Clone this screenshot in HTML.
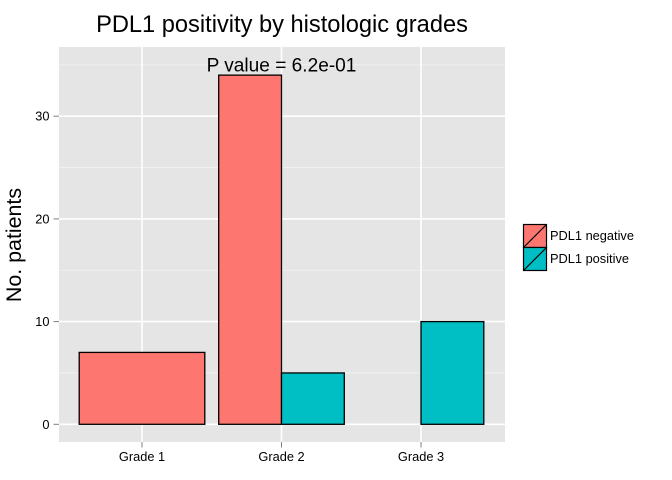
<!DOCTYPE html>
<html>
<head>
<meta charset="utf-8">
<style>
html,body{margin:0;padding:0;background:#fff;}
svg{display:block;font-family:"Liberation Sans",Arial,sans-serif;}
</style>
</head>
<body>
<svg id="chart" width="672" height="480" viewBox="0 0 672 480" xmlns="http://www.w3.org/2000/svg">
  <rect x="0" y="0" width="672" height="480" fill="#ffffff"/>
  <text x="282" y="32" font-size="23.65" text-anchor="middle" fill="#000">PDL1 positivity by histologic grades</text>
  <text transform="translate(21,245) rotate(-90)" font-size="21.4" text-anchor="middle" fill="#000">No. patients</text>
  <rect x="59" y="47" width="446" height="395" fill="#e5e5e5"/>
  <g id="grid"></g>
  <g id="bars"></g>
  <g id="axes"></g>
  <text x="281.5" y="71.5" font-size="19.1" text-anchor="middle" fill="#000">P value = 6.2e-01</text>
  <g>
    <g>
      <rect x="523.5" y="224.5" width="23" height="23" fill="#fd766f" stroke="#000" stroke-width="1.2"/>
      <line x1="523.5" y1="247.5" x2="546.5" y2="224.5" stroke="#000" stroke-width="1.2"/>
      <text x="550" y="240" font-size="12.8" fill="#000">PDL1 negative</text>
    </g>
    <g>
      <rect x="523.5" y="247.5" width="23" height="23" fill="#00BFC4" stroke="#000" stroke-width="1.2"/>
      <line x1="523.5" y1="270.5" x2="546.5" y2="247.5" stroke="#000" stroke-width="1.2"/>
      <text x="550" y="263" font-size="12.8" fill="#000">PDL1 positive</text>
    </g>
  </g>
</svg>
<script>
const categories = ["Grade 1", "Grade 2", "Grade 3"];
const negativeValues = [7, 34, null];
const positiveValues = [null, 5, 10];
const dodgeSlots = [1, 2, 2];
const yTicks = [0, 10, 20, 30];
const yMinorTicks = [5, 15, 25, 35];

const NS = "http://www.w3.org/2000/svg";
const xScale = function (i) { return 142 + i * 139.5; };
const yScale = function (v) { return 424.3 - v * 10.27; };
const barWidth = 125.6;

function mk(tag, attrs, parent) {
  const el = document.createElementNS(NS, tag);
  Object.keys(attrs).forEach(function (k) { el.setAttribute(k, attrs[k]); });
  parent.appendChild(el);
  return el;
}

const grid = document.getElementById("grid");
const bars = document.getElementById("bars");
const axes = document.getElementById("axes");

yMinorTicks.forEach(function (v) {
  const el = mk("line", { x1: 59, x2: 505, y1: yScale(v), y2: yScale(v), stroke: "#f2f2f2", "stroke-width": 0.8 }, grid);
  
  
});
yTicks.forEach(function (v) {
  const el = mk("line", { x1: 59, x2: 505, y1: yScale(v), y2: yScale(v), stroke: "#ffffff", "stroke-width": 1.6 }, grid);
  
  
  const tick = mk("line", { x1: 53.5, x2: 59, y1: yScale(v), y2: yScale(v), stroke: "#7f7f7f", "stroke-width": 1 }, axes);
  
  
  const label = mk("text", { x: 49.5, y: yScale(v) + 4.5, "font-size": 12.8, "text-anchor": "end", fill: "#000" }, axes);
  
  
  label.textContent = v;
});

categories.forEach(function (c, i) {
  const cx = xScale(i);
  const el = mk("line", { x1: cx, x2: cx, y1: 47, y2: 442, stroke: "#ffffff", "stroke-width": 1.6 }, grid);
  
  
  const tick = mk("line", { x1: cx, x2: cx, y1: 442, y2: 447.5, stroke: "#7f7f7f", "stroke-width": 1 }, axes);
  
  
  const label = mk("text", { x: cx, y: 461, "font-size": 12.8, "text-anchor": "middle", fill: "#000" }, axes);
  
  
  label.textContent = c;
});

function drawBar(i, slot, value, fill) {
  if (value === null) return;
  const w = barWidth / dodgeSlots[i];
  const left = xScale(i) - barWidth / 2 + slot * w;
  const top = yScale(value);
  const el = mk("rect", { x: left, y: top, width: w, height: yScale(0) - top, fill: fill, stroke: "#000", "stroke-width": 1.3 }, bars);
  
  
}

categories.forEach(function (c, i) {
  drawBar(i, 0, negativeValues[i], "#fd766f");
});
categories.forEach(function (c, i) {
  drawBar(i, dodgeSlots[i] - 1, positiveValues[i], "#00BFC4");
});
</script>
</body>
</html>
